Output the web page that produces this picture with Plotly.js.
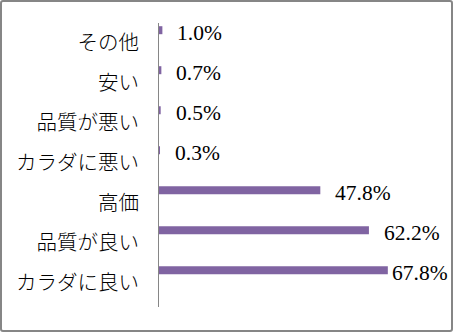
<!DOCTYPE html>
<html>
<head>
<meta charset="utf-8">
<script src="https://cdn.plot.ly/plotly-3.0.1.min.js"></script>
<style>
html,body{margin:0;padding:0;background:#fff;}
#wrap{position:relative;width:453px;height:332px;}
#chart{position:absolute;left:0;top:0;width:453px;height:332px;}
#frame{position:absolute;left:0;top:0;width:453px;height:332px;box-sizing:border-box;border:2.5px solid #868686;border-radius:3px;pointer-events:none;}
</style>
</head>
<body>
<div id="wrap"><div id="chart"></div><div id="frame"></div></div>
<script>
const categories = ['その他','安い','品質が悪い','カラダに悪い','高価','品質が良い','カラダに良い'];
const values = [1.0, 0.7, 0.5, 0.3, 47.8, 62.2, 67.8];
const valueLabels = values.map(v => v.toFixed(1) + '%');

const xMax = 80;
const plotW = 453 - 159 - 24;
const pxPer = plotW / xMax;
const labelW = 56, gap = 13, rightLimit = 446 - 159;

const annotations = values.map((v, i) => {
  let shift = gap;
  const end = v * pxPer + gap + labelW;
  if (end > rightLimit) shift = gap - (end - rightLimit);
  return {
    x: v, y: categories[i], xref: 'x', yref: 'y',
    text: valueLabels[i], showarrow: false,
    xanchor: 'left', yanchor: 'middle', xshift: shift, yshift: 10,
    font: {family: 'Liberation Serif, serif', size: 21.5, color: '#000'}
  };
});

const trace = {
  type: 'bar', orientation: 'h',
  x: values, y: categories,
  width: 0.2, offset: -0.42,
  marker: {color: '#8064A2'},
  hoverinfo: 'none'
};

const layout = {
  width: 453, height: 332,
  margin: {l: 159, r: 24, t: 23, b: 25, pad: 0},
  paper_bgcolor: '#fff', plot_bgcolor: '#fff',
  showlegend: false,
  xaxis: {range: [0, xMax], visible: false, fixedrange: true},
  yaxis: {
    type: 'category', autorange: 'reversed',
    showline: true, linecolor: '#868686', linewidth: 1,
    showgrid: false, zeroline: false, ticks: '',
    ticklabelstandoff: 15,
    tickfont: {family: 'Noto Sans CJK JP', size: 20.5, color: '#000', weight: 300},
    fixedrange: true
  },
  annotations: annotations
};

Plotly.newPlot('chart', [trace], layout, {staticPlot: true, displayModeBar: false});
</script>
</body>
</html>
